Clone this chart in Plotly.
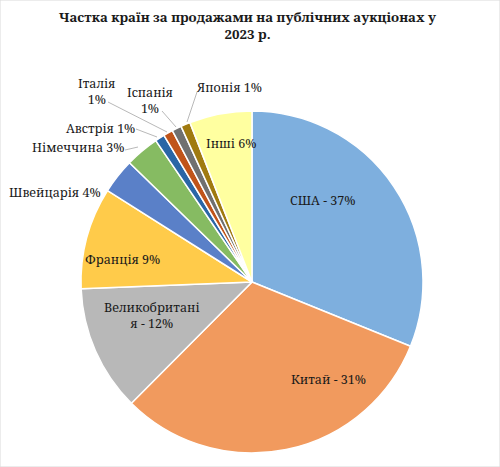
import plotly.graph_objects as go

# ---- data ----
countries = ["США", "Китай", "Великобританія", "Франція", "Швейцарія", "Німеччина",
             "Австрія", "Італія", "Іспанія", "Японія", "Інші"]
# slice sizes as drawn in the picture (share of the circle, %)
slice_values = [31.1, 31.3, 11.9, 9.6, 3.3, 3.2, 0.9, 0.9, 0.9, 0.9, 5.9]
# percentages as printed on the labels
label_texts = ["США - 37%", "Китай - 31%", "Великобритані<br>я - 12%", "Франція 9%",
               "Швейцарія 4%", "Німеччина 3%", "Австрія 1%", "Італія<br>1%",
               "Іспанія<br>1%", "Японія 1%", "Інші 6%"]
title_text = "Частка країн за продажами на публічних аукціонах у<br>2023 р."

colors = ["#7EAFDE", "#F19A5E", "#B8B8B8", "#FFCB4A", "#5A80C8", "#86BB62",
          "#2A66A6", "#C0541A", "#707070", "#A07A10", "#FFFFA0"]

W, H = 500, 467
cx, cy, r = 252, 282, 171

def px(x):
    return x / W

def py(y):
    return 1 - y / H

fig = go.Figure(go.Pie(
    labels=countries,
    values=slice_values,
    sort=False,
    direction="clockwise",
    rotation=0,
    textinfo="none",
    hoverinfo="label+percent",
    marker=dict(colors=colors, line=dict(color="white", width=1.5)),
    domain=dict(x=[px(cx - r), px(cx + r)], y=[py(cy + r), py(cy - r)]),
    showlegend=False,
))

# label positions (pixel centre of each label) and leader line end points
label_pos = [(322, 200), (328, 379), (152, 315), (122, 259), (55, 192), (78, 148),
             (100, 128), (96, 92), (150, 101), (229, 88), (231, 143)]
leaders = {
    5: [(125, 150), (138, 147)],
    6: [(136, 129), (157, 137)],
    7: [(108, 102), (167, 132)],
    8: [(162, 111), (176, 127)],
    9: [(197, 92), (187, 122)],
}

SERIF = "Noto Serif"
font = dict(family=SERIF, size=12.5, color="#1a1a1a")
annotations = [dict(x=px(248), y=py(26), xref="paper", yref="paper",
                    text="<b>" + title_text + "</b>", showarrow=False,
                    font=dict(family=SERIF, size=13.3, color="#1a1a1a"),
                    xanchor="center", yanchor="middle")]
for i, txt in enumerate(label_texts):
    x, y = label_pos[i]
    annotations.append(dict(x=px(x), y=py(y), xref="paper", yref="paper", text=txt,
                            showarrow=False, font=font, xanchor="center", yanchor="middle"))

shapes = [dict(type="rect", xref="paper", yref="paper", x0=0, y0=0, x1=1, y1=1,
               line=dict(color="#D9D9D9", width=1))]
for i, pts in leaders.items():
    (x0, y0), (x1, y1) = pts
    shapes.append(dict(type="line", xref="paper", yref="paper", x0=px(x0), y0=py(y0),
                       x1=px(x1), y1=py(y1), line=dict(color="#A6A6A6", width=0.8)))

fig.update_layout(
    width=W, height=H,
    margin=dict(l=0, r=0, t=0, b=0),
    paper_bgcolor="white",
    annotations=annotations,
    shapes=shapes,
)

fig.write_html("out.html")
